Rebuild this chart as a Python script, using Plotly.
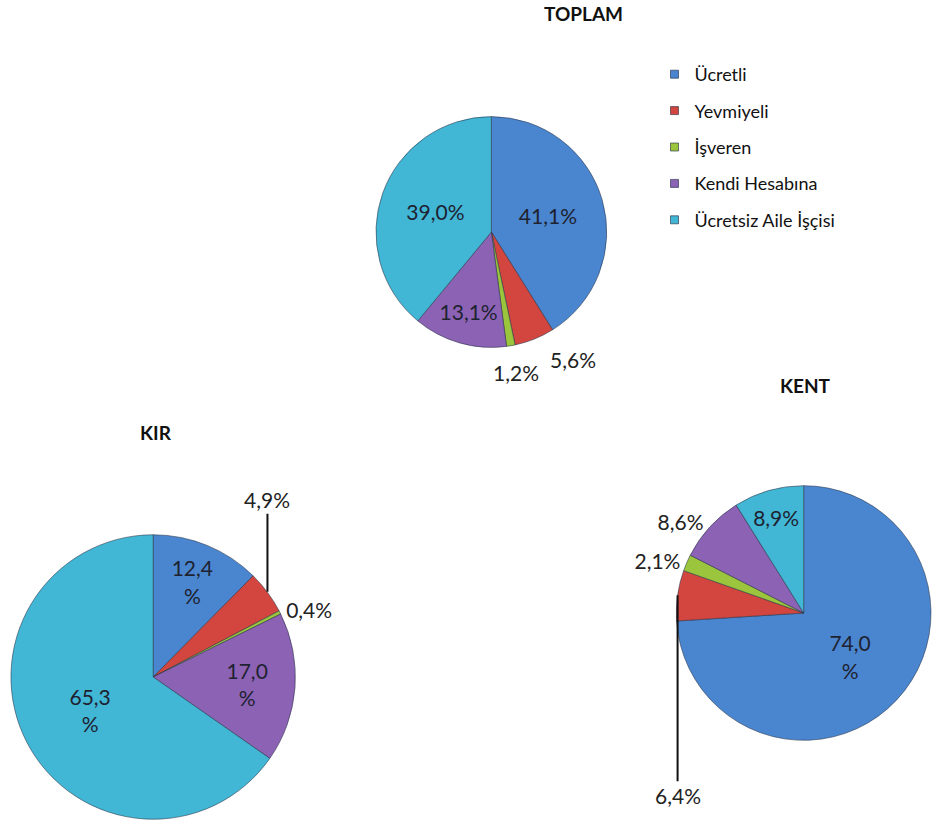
import math
import plotly.graph_objects as go

# ---------------- data ----------------
categories = ["Ücretli", "Yevmiyeli", "İşveren", "Kendi Hesabına", "Ücretsiz Aile İşçisi"]
toplam = [41.1, 5.6, 1.2, 13.1, 39.0]
kir = [12.4, 4.9, 0.4, 17.0, 65.3]
kent = [74.0, 6.4, 2.1, 8.6, 8.9]
titles = ["TOPLAM", "KIR", "KENT"]

# ---------------- style ----------------
colors = ["#4a86cf", "#d2463f", "#9bc53d", "#8c62b5", "#41b6d5"]
W, H = 936, 827
FONT = "Lato"

def fmt(v, wrap=False):
    s = f"{v:.1f}".replace(".", ",")
    return s + ("<br>%" if wrap else "%")

pies = [
    dict(name="TOPLAM", values=toplam,
         domain=dict(x=[378 / W, 610 / W], y=[1 - 348 / H, 1 - 116 / H]),
         wrap=[False] * 5,
         pos=["inside", "none", "none", "inside", "inside"],
         leaders=[],
         offsets=[(1, 38, 20), (2, 5, 26)]),
    dict(name="KIR", values=kir,
         domain=dict(x=[11 / W, 297 / W], y=[1 - 820 / H, 1 - 534 / H]),
         wrap=[True, False, False, True, True],
         pos=["inside", "none", "outside", "inside", "inside"],
         leaders=[(1, -92)],
         offsets=[]),
    dict(name="KENT", values=kent,
         domain=dict(x=[680 / W, 1.0], y=[1 - 741 / H, 1 - 485 / H]),
         wrap=[True, False, False, False, False],
         pos=["inside", "none", "outside", "outside", "inside"],
         leaders=[(1, 200)],
         offsets=[]),
]

fig = go.Figure()
annotations = []
label_font = dict(family=FONT, size=21, color="#222222")

for p in pies:
    vals = p["values"]
    texts = [fmt(v, w) for v, w in zip(vals, p["wrap"])]
    fig.add_trace(go.Pie(
        labels=categories, values=vals, text=texts,
        textinfo="text", textposition=p["pos"],
        insidetextorientation="horizontal",
        sort=False, direction="clockwise", rotation=0,
        domain=p["domain"],
        marker=dict(colors=colors, line=dict(color="rgba(40,50,70,0.55)", width=1)),
        textfont=dict(family=FONT, size=21, color="#1e2230"),
        outsidetextfont=label_font,
        showlegend=False, name=p["name"],
    ))
    dx, dy = p["domain"]["x"], p["domain"]["y"]
    cx, cy = (dx[0] + dx[1]) / 2, (dy[0] + dy[1]) / 2
    r_px = min((dx[1] - dx[0]) * W, (dy[1] - dy[0]) * H) / 2
    total = sum(vals)

    def rim(idx):
        frac = (sum(vals[:idx]) + vals[idx] / 2) / total
        th = 2 * math.pi * frac
        return cx + r_px * math.sin(th) / W, cy + r_px * math.cos(th) / H

    # leader-line labels anchored at the slice's mid-angle on the rim
    for idx, ay in p["leaders"]:
        x, y = rim(idx)
        annotations.append(dict(
            x=x, y=y, xref="paper", yref="paper", text=texts[idx],
            showarrow=True, arrowhead=0, arrowwidth=2, arrowcolor="#111111",
            ax=0, ay=ay, standoff=0, startstandoff=0, font=label_font,
        ))
    # free outside labels, offset from the slice rim
    for idx, sx, sy in p["offsets"]:
        x, y = rim(idx)
        annotations.append(dict(
            x=x, y=y, xref="paper", yref="paper", text=texts[idx],
            showarrow=False, xshift=sx, yshift=-sy, font=label_font,
        ))

# chart titles
title_pos = {"TOPLAM": (587, 14), "KIR": (157, 432), "KENT": (810, 385)}
for t in titles:
    tx, ty = title_pos[t]
    annotations.append(dict(
        x=tx / W, y=1 - ty / H, xref="paper", yref="paper", text=f"<b>{t}</b>",
        showarrow=False, xanchor="center", yanchor="middle",
        font=dict(family=FONT, size=19, color="#111111"),
    ))

# legend entries (one group per category for row spacing)
for i, (c, col) in enumerate(zip(categories, colors)):
    fig.add_trace(go.Scatter(
        x=[None], y=[None], mode="markers", name=c, legendgroup=f"g{i}",
        marker=dict(symbol="square", size=8, color=col,
                    line=dict(color="rgba(30,40,60,0.6)", width=1)),
        showlegend=True, hoverinfo="skip",
    ))

fig.update_layout(
    width=W, height=H,
    margin=dict(l=0, r=0, t=0, b=0),
    paper_bgcolor="white", plot_bgcolor="white",
    xaxis=dict(visible=False), yaxis=dict(visible=False),
    annotations=annotations,
    legend=dict(
        x=658 / W, y=1 - 56 / H, xanchor="left", yanchor="top",
        font=dict(family=FONT, size=18, color="#111111"),
        tracegroupgap=10, bgcolor="rgba(0,0,0,0)",
    ),
    showlegend=True,
)

fig.write_html("out.html")
